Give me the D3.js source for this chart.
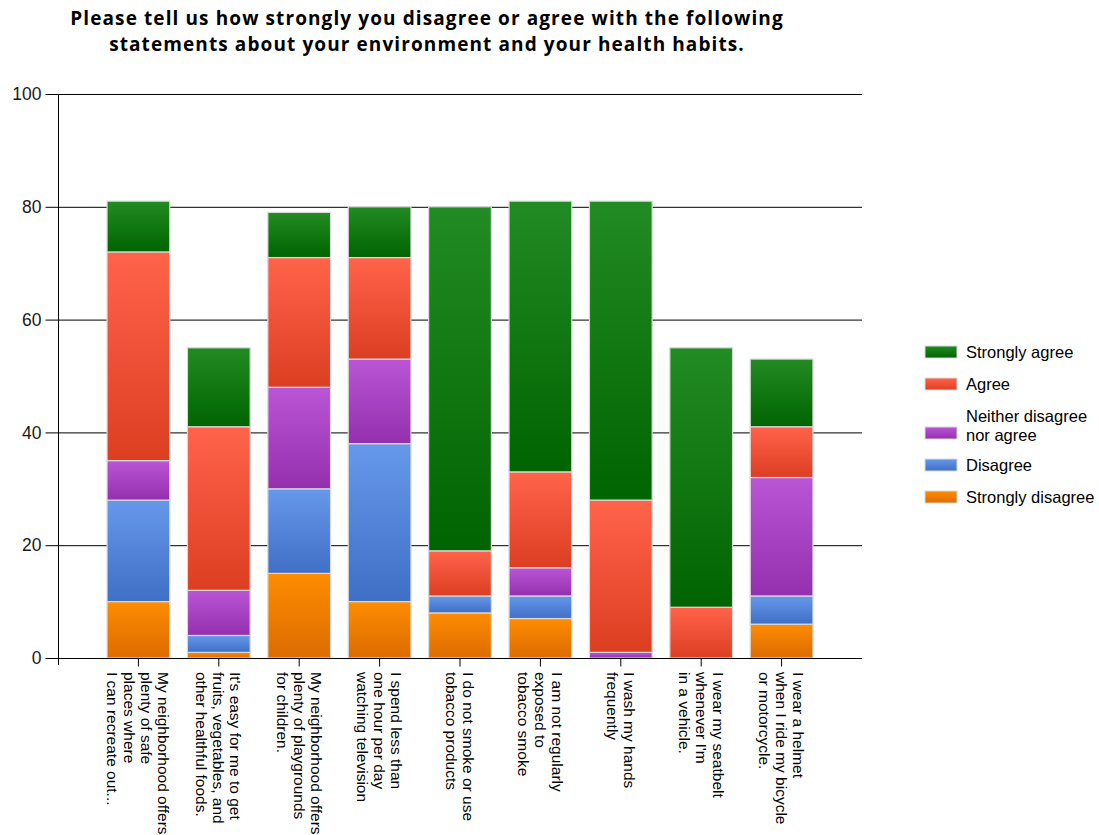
<!DOCTYPE html>
<html>
<head>
<meta charset="utf-8">
<script src="https://cdn.jsdelivr.net/npm/d3@7"></script>
<style>
  html, body { margin: 0; padding: 0; background: #fff; }
  svg { display: block; font-family: Arial, "Liberation Sans", sans-serif; }
</style>
</head>
<body>
<svg id="chart" width="1099" height="835"></svg>
<script>
// ---- data ----
const categories = [
  ["My neighborhood offers", "plenty of safe", "places where", "I can recreate out..."],
  ["It's easy for me to get", "fruits, vegetables, and", "other healthful foods."],
  ["My neighborhood offers", "plenty of playgrounds", "for children."],
  ["I spend less than", "one hour per day", "watching television"],
  ["I do not smoke or use", "tobacco products"],
  ["I am not regularly", "exposed to", "tobacco smoke"],
  ["I wash my hands", "frequently"],
  ["I wear my seatbelt", "whenever I'm", "in a vehicle."],
  ["I wear a helmet", "when I ride my bicycle", "or motorcycle."]
];
const seriesNames = ["Strongly disagree", "Disagree", "Neither disagree nor agree", "Agree", "Strongly agree"];
const stronglyDisagree = [10, 1, 15, 10, 8, 7, 0, 0, 6];
const disagree         = [18, 3, 15, 28, 3, 4, 0, 0, 5];
const neither          = [7, 8, 18, 15, 0, 5, 1, 0, 21];
const agree            = [37, 29, 23, 18, 8, 17, 27, 9, 9];
const stronglyAgree    = [9, 14, 8, 9, 61, 48, 53, 46, 12];
const yTicks = [0, 20, 40, 60, 80, 100];
const title = ["Please tell us how strongly you disagree or agree with the following",
               "statements about your environment and your health habits."];

// ---- styles ----
const gradColors = {
  "Strongly disagree": ["#ff8c00", "#dc6c00"],
  "Disagree": ["#6698ea", "#3f6fc6"],
  "Neither disagree nor agree": ["#ba56d6", "#9430ae"],
  "Agree": ["#ff634a", "#dc3e22"],
  "Strongly agree": ["#238b23", "#006400"]
};
const legendLabels = {
  "Strongly agree": ["Strongly agree"],
  "Agree": ["Agree"],
  "Neither disagree nor agree": ["Neither disagree", "nor agree"],
  "Disagree": ["Disagree"],
  "Strongly disagree": ["Strongly disagree"]
};

const svg = d3.select("#chart");
const margin = { left: 58, right: 862, top: 94, bottom: 658 };

const table = categories.map((c, i) => ({
  key: i,
  "Strongly disagree": stronglyDisagree[i],
  "Disagree": disagree[i],
  "Neither disagree nor agree": neither[i],
  "Agree": agree[i],
  "Strongly agree": stronglyAgree[i]
}));
const stacked = d3.stack().keys(seriesNames)(table);

const x = d3.scaleBand()
  .domain(d3.range(categories.length))
  .range([margin.left, margin.right])
  .paddingInner(0.22)
  .paddingOuter(0.61);
const y = d3.scaleLinear().domain([0, 100]).range([margin.bottom, margin.top]);

// gradients
const defs = svg.append("defs");
seriesNames.forEach((s, i) => {
  const g = defs.append("linearGradient").attr("id", "grad" + i)
    .attr("x1", 0).attr("y1", 0).attr("x2", 0).attr("y2", 1);
  g.append("stop").attr("offset", "0%").attr("stop-color", gradColors[s][0]);
  g.append("stop").attr("offset", "100%").attr("stop-color", gradColors[s][1]);
});

// title (two separate lines)
svg.append("g").selectAll("text").data(title).join("text")
  .attr("x", 427).attr("y", (d, i) => 25 + i * 26)
  .attr("text-anchor", "middle")
  .attr("font-family", "'Open Sans', Arial, sans-serif")
  .attr("font-weight", "bold").attr("font-size", 19).attr("letter-spacing", 1.1)
  .attr("fill", "#000")
  .text(d => d);

// gridlines
svg.append("g").selectAll("line").data(yTicks.filter(t => t > 0)).join("line")
  .attr("x1", margin.left).attr("x2", margin.right)
  .attr("y1", d => y(d) + 0.5).attr("y2", d => y(d) + 0.5)
  .attr("stroke", "#000").attr("stroke-width", 1);

// bars
svg.append("g").selectAll("g").data(stacked).join("g")
  .attr("fill", (d, i) => `url(#grad${i})`)
  .selectAll("rect").data(d => d.filter(p => p[1] - p[0] > 0)).join("rect")
  .attr("x", d => x(d.data.key))
  .attr("width", x.bandwidth())
  .attr("y", d => y(d[1]))
  .attr("height", d => y(d[0]) - y(d[1]))
  .attr("stroke", "#d9d9d9").attr("stroke-width", 1.2);

// y axis
const yAxis = d3.axisLeft(y).tickValues(yTicks).tickSize(13).tickPadding(4);
const yg = svg.append("g").attr("transform", `translate(${margin.left + 0.5},0)`).call(yAxis);
yg.select(".domain").remove();
yg.selectAll(".tick line").attr("stroke", "#000");
yg.selectAll(".tick text").attr("font-size", 17.5).attr("fill", "#1a1a1a")
  .attr("font-family", "Arial, 'Liberation Sans', sans-serif");
yg.append("line").attr("x1", 0).attr("x2", 0)
  .attr("y1", margin.top).attr("y2", margin.bottom + 7).attr("stroke", "#000");

// x axis
const xAxis = d3.axisBottom(x).tickSize(8).tickFormat("");
const xg = svg.append("g").attr("transform", `translate(0,${margin.bottom + 0.5})`).call(xAxis);
xg.select(".domain").attr("d", `M${margin.left},0H${margin.right}`).attr("stroke", "#000");
xg.selectAll(".tick line").attr("stroke", "#000");

// x labels rotated
const lh = 17;
svg.append("g").selectAll("g").data(categories).join("g")
  .attr("transform", (d, i) => `translate(${x(i) + x.bandwidth() / 2},672) rotate(90)`)
  .each(function(lines) {
    const n = lines.length;
    d3.select(this).selectAll("text").data(lines).join("text")
      .attr("x", 0)
      .attr("y", (d, i) => (i - (n - 1) / 2) * lh)
      .attr("dy", "0.35em")
      .attr("font-size", 15.5).attr("fill", "#000")
      .text(d => d);
  });

// legend
const legendOrder = seriesNames.slice().reverse();
let ly = 352;
const lg = svg.append("g");
legendOrder.forEach((s, k) => {
  const lines = legendLabels[s];
  const idx = seriesNames.indexOf(s);
  const cy = ly + (lines.length - 1) * 17;
  lg.append("rect").attr("x", 925).attr("y", cy - 6).attr("width", 32).attr("height", 12)
    .attr("fill", `url(#grad${idx})`).attr("stroke", "#d9d9d9").attr("stroke-width", 1);
  lines.forEach((t, j) => {
    lg.append("text").attr("x", 966).attr("y", ly + j * 19)
      .attr("dy", "0.35em").attr("font-size", 16.5).attr("fill", "#000").text(t);
  });
  ly = cy + 32;
});
</script>
</body>
</html>
